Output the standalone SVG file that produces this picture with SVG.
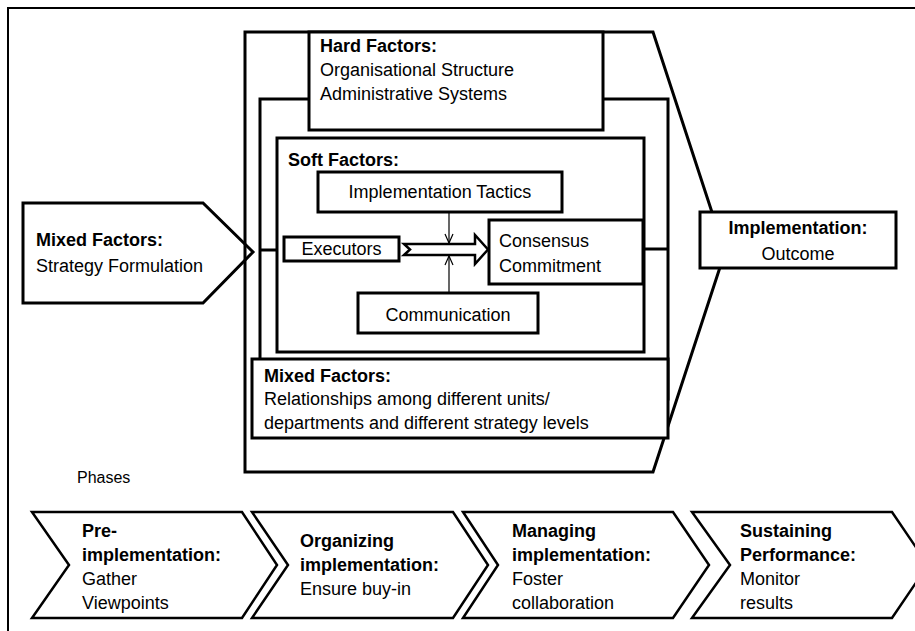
<svg xmlns="http://www.w3.org/2000/svg" width="915" height="631" viewBox="0 0 915 631">
<style>
text{font-family:"Liberation Sans",Arial,sans-serif;font-size:18px;fill:#000}
.b{font-weight:bold}
.m{text-anchor:middle}
.box{fill:#fff;stroke:#000;stroke-width:3}
.fr{fill:none;stroke:#000;stroke-width:3}
.ln{fill:none;stroke:#000;stroke-width:3}
.thin{fill:none;stroke:#000;stroke-width:1.2}
.chev{fill:#fff;stroke:#000;stroke-width:2.5}
</style>
<defs>
<marker id="v" viewBox="0 0 10 10" refX="10" refY="5" markerWidth="10" markerHeight="10" markerUnits="userSpaceOnUse" orient="auto">
<path d="M1,1 L10,5 L1,9" fill="none" stroke="#000" stroke-width="1.2"/>
</marker>
</defs>
<rect width="915" height="631" fill="#fff"/>
<rect x="8" y="8" width="930" height="650" fill="none" stroke="#000" stroke-width="2"/>

<g id="mixed-left">
<polygon class="box" points="23,203 203,203 253,252 203,303 23,303"/>
<text x="36" y="246" class="b">Mixed Factors:</text>
<text x="36" y="272">Strategy Formulation</text>
</g>

<g id="scope">
<polygon class="fr" points="245,32 653,32 725,252 653,472 245,472"/>
</g>
<g id="middle-frame">
<rect class="fr" x="260" y="99" width="408" height="300"/>
</g>

<g id="hard">
<rect class="box" x="309" y="32" width="294" height="98"/>
<text x="320" y="52" class="b">Hard Factors:</text>
<text x="320" y="76">Organisational Structure</text>
<text x="320" y="100">Administrative Systems</text>
</g>

<g id="soft">
<rect class="box" x="277" y="138" width="367" height="214"/>
<text x="288" y="166" class="b">Soft Factors:</text>
</g>

<g id="tactics">
<rect class="box" x="318" y="172" width="244" height="40"/>
<text x="440" y="198" class="m">Implementation Tactics</text>
</g>
<g id="executors">
<rect class="box" x="284" y="237" width="115" height="24"/>
<text x="341.5" y="255" class="m">Executors</text>
</g>
<g id="consensus">
<rect class="box" x="489" y="220" width="154" height="64"/>
<text x="499" y="247">Consensus</text>
<text x="499" y="272">Commitment</text>
</g>
<g id="communication">
<rect class="box" x="358" y="293" width="180" height="40"/>
<text x="448" y="321" class="m">Communication</text>
</g>

<g id="mixed-bottom">
<rect class="box" x="252" y="359" width="416" height="79"/>
<text x="264" y="382" class="b">Mixed Factors:</text>
<text x="264" y="405">Relationships among different units/</text>
<text x="264" y="429">departments and different strategy levels</text>
</g>

<g id="outcome">
<rect class="box" x="700" y="212" width="196" height="56"/>
<text x="798" y="234" class="b m">Implementation:</text>
<text x="798" y="260" class="m">Outcome</text>
</g>

<g id="connectors">
<line class="ln" x1="260" y1="250" x2="277" y2="250"/>
<line class="ln" x1="644" y1="249" x2="668" y2="249"/>
<polygon fill="#fff" stroke="#000" stroke-width="2.5" points="404,244 475,244 475,235 488,249.5 475,264 475,255 404,255 410,249.5"/>
<line class="thin" x1="449" y1="212" x2="449" y2="243" marker-end="url(#v)"/>
<line class="thin" x1="449" y1="293" x2="449" y2="256" marker-end="url(#v)"/>
</g>

<text x="77" y="483" style="font-size:16px">Phases</text>

<g id="phase-1">
<polygon class="chev" points="32,512 242,512 277,565 242,618 32,618 69,565"/>
<text x="82" y="537" class="b">Pre-</text>
<text x="82" y="561" class="b">implementation:</text>
<text x="82" y="585">Gather</text>
<text x="82" y="609">Viewpoints</text>
</g>
<g id="phase-2">
<polygon class="chev" points="252,512 453,512 488,565 453,618 252,618 288,565"/>
<text x="300" y="547" class="b">Organizing</text>
<text x="300" y="571" class="b">implementation:</text>
<text x="300" y="595">Ensure buy-in</text>
</g>
<g id="phase-3">
<polygon class="chev" points="463,512 673,512 709,565 673,618 463,618 498,565"/>
<text x="512" y="537" class="b">Managing</text>
<text x="512" y="561" class="b">implementation:</text>
<text x="512" y="585">Foster</text>
<text x="512" y="609">collaboration</text>
</g>
<g id="phase-4">
<polygon class="chev" points="692,512 892,512 928,565 892,618 692,618 730,565"/>
<text x="740" y="537" class="b">Sustaining</text>
<text x="740" y="561" class="b">Performance:</text>
<text x="740" y="585">Monitor</text>
<text x="740" y="609">results</text>
</g>
</svg>
